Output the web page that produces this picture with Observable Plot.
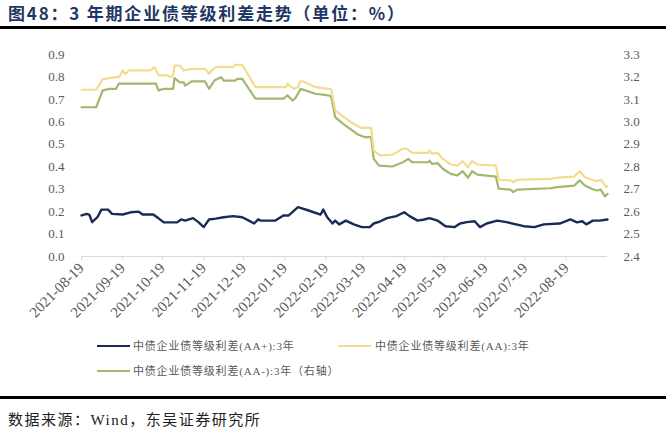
<!DOCTYPE html>
<html>
<head>
<meta charset="utf-8">
<script src="https://cdn.jsdelivr.net/npm/d3@7"></script>
<script src="https://cdn.jsdelivr.net/npm/@observablehq/plot@0.6"></script>
<style>
  html, body { margin: 0; padding: 0; background: #fff; }
  body { width: 666px; height: 439px; position: relative; overflow: hidden; font-family: "Liberation Serif", "Noto Sans CJK SC", serif; }
  #title { position: absolute; left: 8px; top: 2px; font-family: "Noto Sans CJK SC", sans-serif; font-weight: 700; font-size: 17px; color: #1f3763; letter-spacing: 1.8px; white-space: nowrap; line-height: 22px; }
  .rule { position: absolute; left: 0; width: 666px; height: 3px; background: #000; }
  #chart { position: absolute; left: 0; top: 30px; }
  .leg { position: absolute; font-family: "Liberation Serif", "Noto Sans CJK SC", serif; font-size: 11px; color: #595959; letter-spacing: 0.8px; white-space: nowrap; line-height: 14px; }
  .legline { position: absolute; height: 2px; width: 33px; }
  #source { position: absolute; left: 8px; top: 408px; font-size: 15px; letter-spacing: 1.5px; color: #222; font-family: "Liberation Serif", "Noto Sans CJK SC", serif; white-space: nowrap; }
</style>
</head>
<body>
<div id="title"></div>
<div class="rule" style="top:26px"></div>
<div id="chart"></div>
<div id="legend"></div>
<div class="rule" style="top:396px"></div>
<div id="source"></div>
<script>
const titleText = "图48：3 年期企业债等级利差走势（单位：%）";
const sourceText = "数据来源：Wind，东吴证券研究所";
const seriesNames = ["中债企业债等级利差(AA+):3年", "中债企业债等级利差(AA):3年", "中债企业债等级利差(AA-):3年（右轴）"];
const seriesColors = ["#1a2b55", "#f3dc8e", "#a3b76e"];

const xTickLabels = ["2021-08-19","2021-09-19","2021-10-19","2021-11-19","2021-12-19","2022-01-19","2022-02-19","2022-03-19","2022-04-19","2022-05-19","2022-06-19","2022-07-19","2022-08-19"];
const xDomain = ["2021-08-19", "2022-09-19"];
const leftTicks = [0.0,0.1,0.2,0.3,0.4,0.5,0.6,0.7,0.8,0.9];
const rightTicks = [2.4,2.5,2.6,2.7,2.8,2.9,3.0,3.1,3.2,3.3];
const rightOffset = 2.4; // right axis 2.4 aligns with left 0.0

// AA+ (left axis)
const aaPlus = [
["2021-08-19",0.183],["2021-08-23",0.190],["2021-08-25",0.185],["2021-08-27",0.153],["2021-08-31",0.175],
["2021-09-03",0.209],["2021-09-08",0.209],["2021-09-11",0.190],["2021-09-19",0.187],["2021-09-25",0.197],
["2021-10-01",0.200],["2021-10-04",0.187],["2021-10-12",0.187],["2021-10-16",0.170],["2021-10-20",0.152],
["2021-10-30",0.152],["2021-11-02",0.165],["2021-11-05",0.160],["2021-11-11",0.171],["2021-11-15",0.153],
["2021-11-19",0.131],["2021-11-23",0.165],["2021-11-28",0.169],["2021-12-04",0.175],["2021-12-11",0.180],
["2021-12-18",0.175],["2021-12-23",0.160],["2021-12-27",0.147],["2021-12-30",0.165],["2022-01-01",0.160],
["2022-01-12",0.160],["2022-01-18",0.183],["2022-01-22",0.183],["2022-01-29",0.220],["2022-02-06",0.205],
["2022-02-15",0.187],["2022-02-17",0.209],["2022-02-20",0.175],["2022-02-24",0.147],["2022-02-26",0.160],
["2022-03-01",0.143],["2022-03-06",0.160],["2022-03-12",0.143],["2022-03-18",0.131],["2022-03-24",0.131],
["2022-03-27",0.147],["2022-04-01",0.157],["2022-04-06",0.171],["2022-04-13",0.180],["2022-04-19",0.197],
["2022-04-23",0.180],["2022-04-29",0.160],["2022-05-04",0.165],["2022-05-08",0.171],["2022-05-14",0.160],
["2022-05-20",0.135],["2022-05-27",0.131],["2022-05-31",0.147],["2022-06-05",0.153],["2022-06-11",0.157],
["2022-06-15",0.131],["2022-06-20",0.147],["2022-06-28",0.160],["2022-07-05",0.153],["2022-07-18",0.135],
["2022-07-26",0.131],["2022-08-02",0.143],["2022-08-14",0.147],["2022-08-22",0.165],["2022-08-27",0.152],
["2022-08-31",0.157],["2022-09-03",0.143],["2022-09-08",0.160],["2022-09-13",0.160],["2022-09-19",0.165]
];

// AA (left axis)
const aa = [
["2021-08-19",0.743],["2021-08-30",0.743],["2021-09-04",0.790],["2021-09-16",0.800],["2021-09-17",0.805],
["2021-09-19",0.829],["2021-09-21",0.814],["2021-09-24",0.829],["2021-10-10",0.829],["2021-10-13",0.844],
["2021-10-16",0.807],["2021-10-23",0.807],["2021-10-25",0.799],["2021-10-27",0.807],["2021-10-28",0.851],
["2021-11-01",0.851],["2021-11-04",0.829],["2021-11-10",0.836],["2021-11-20",0.836],["2021-11-23",0.814],
["2021-11-25",0.829],["2021-11-28",0.844],["2021-12-11",0.844],["2021-12-13",0.854],["2021-12-18",0.854],
["2021-12-28",0.755],["2022-01-20",0.755],["2022-01-21",0.770],["2022-01-26",0.747],["2022-01-29",0.755],
["2022-01-31",0.784],["2022-02-11",0.755],["2022-02-21",0.747],["2022-02-23",0.745],["2022-02-26",0.651],
["2022-03-03",0.628],["2022-03-10",0.598],["2022-03-14",0.584],["2022-03-18",0.573],["2022-03-25",0.573],
["2022-03-27",0.472],["2022-04-01",0.450],["2022-04-10",0.454],["2022-04-18",0.480],["2022-04-21",0.480],
["2022-04-25",0.462],["2022-05-07",0.462],["2022-05-08",0.472],["2022-05-10",0.458],["2022-05-14",0.462],
["2022-05-18",0.435],["2022-05-24",0.410],["2022-05-29",0.405],["2022-06-02",0.425],["2022-06-06",0.398],
["2022-06-09",0.425],["2022-06-13",0.410],["2022-06-27",0.405],["2022-06-29",0.342],["2022-07-08",0.339],
["2022-07-10",0.331],["2022-07-13",0.342],["2022-08-07",0.346],["2022-08-12",0.351],["2022-08-25",0.356],
["2022-08-29",0.380],["2022-09-02",0.353],["2022-09-07",0.342],["2022-09-11",0.336],["2022-09-14",0.342],
["2022-09-18",0.309],["2022-09-19",0.315]
];

// AA- (right axis)
const aaMinus = [
["2021-08-19",3.065],["2021-08-30",3.065],["2021-09-04",3.140],["2021-09-09",3.147],["2021-09-14",3.147],
["2021-09-16",3.170],["2021-10-14",3.170],["2021-10-16",3.140],["2021-10-20",3.147],["2021-10-27",3.147],
["2021-10-28",3.195],["2021-11-01",3.176],["2021-11-04",3.176],["2021-11-05",3.161],["2021-11-10",3.180],
["2021-11-20",3.180],["2021-11-23",3.147],["2021-11-27",3.184],["2021-12-02",3.199],["2021-12-04",3.184],
["2021-12-13",3.184],["2021-12-14",3.191],["2021-12-18",3.191],["2021-12-28",3.103],["2022-01-18",3.103],
["2022-01-21",3.118],["2022-01-25",3.095],["2022-01-27",3.105],["2022-01-31",3.147],["2022-02-11",3.125],
["2022-02-21",3.118],["2022-02-23",3.112],["2022-02-26",3.021],["2022-03-04",2.991],["2022-03-10",2.965],
["2022-03-15",2.944],["2022-03-20",2.932],["2022-03-25",2.932],["2022-03-27",2.835],["2022-03-31",2.805],
["2022-04-10",2.801],["2022-04-18",2.820],["2022-04-22",2.835],["2022-04-25",2.820],["2022-05-07",2.820],
["2022-05-08",2.827],["2022-05-10",2.812],["2022-05-14",2.816],["2022-05-18",2.791],["2022-05-24",2.768],
["2022-05-29",2.761],["2022-06-02",2.780],["2022-06-06",2.751],["2022-06-09",2.780],["2022-06-13",2.765],
["2022-06-27",2.756],["2022-06-29",2.702],["2022-07-08",2.698],["2022-07-10",2.687],["2022-07-13",2.698],
["2022-08-07",2.704],["2022-08-12",2.709],["2022-08-25",2.716],["2022-08-29",2.739],["2022-09-02",2.716],
["2022-09-07",2.702],["2022-09-11",2.694],["2022-09-14",2.698],["2022-09-17",2.667],["2022-09-19",2.679]
];

const parse = d3.utcParse("%Y-%m-%d");
const toRows = (arr, off) => arr.map(([d, v]) => ({date: parse(d), value: v - off}));

document.getElementById("title").textContent = titleText;
document.getElementById("source").textContent = sourceText;

const chart = Plot.plot({
  width: 666,
  height: 300,
  marginLeft: 81,
  marginRight: 59,
  marginTop: 24,
  marginBottom: 74,
  style: { fontFamily: "Liberation Serif, serif", fontSize: "13px", color: "#595959", background: "transparent", overflow: "visible" },
  x: { type: "utc", domain: xDomain.map(parse) },
  y: { domain: [0, 0.9] },
  marks: [
    Plot.ruleY([0], { stroke: "#d9d9d9", strokeWidth: 1 }),
    Plot.axisX({ ticks: xTickLabels.map(parse), tickFormat: d3.utcFormat("%Y-%m-%d"), tickRotate: -45, tickSize: 4, stroke: "#d9d9d9", fill: "#595959", label: null, tickPadding: 5, fontSize: 15 }),
    Plot.axisY({ ticks: leftTicks, tickFormat: d => d.toFixed(1), tickSize: 0, tickPadding: 17, label: null, fill: "#595959" }),
    Plot.axisY({ anchor: "right", ticks: rightTicks.map(v => v - rightOffset), tickFormat: d => (d + rightOffset).toFixed(1), tickSize: 0, tickPadding: 16, label: null, fill: "#595959" }),
    Plot.lineY(toRows(aaMinus, rightOffset), { x: "date", y: "value", stroke: seriesColors[2], strokeWidth: 2.2 }),
    Plot.lineY(toRows(aa, 0), { x: "date", y: "value", stroke: seriesColors[1], strokeWidth: 2.2 }),
    Plot.lineY(toRows(aaPlus, 0), { x: "date", y: "value", stroke: seriesColors[0], strokeWidth: 2.4 })
  ]
});
document.getElementById("chart").appendChild(chart);

// legend
const legendPos = [ {lx: 97, tx: 133, y: 346}, {lx: 338, tx: 375, y: 346}, {lx: 97, tx: 133, y: 371} ];
const legend = document.getElementById("legend");
seriesNames.forEach((name, i) => {
  const p = legendPos[i];
  const ln = document.createElement("div");
  ln.className = "legline";
  ln.style.left = p.lx + "px";
  ln.style.top = (p.y - 1) + "px";
  ln.style.background = seriesColors[i];
  legend.appendChild(ln);
  const tx = document.createElement("div");
  tx.className = "leg";
  tx.style.left = p.tx + "px";
  tx.style.top = (p.y - 7) + "px";
  tx.textContent = name;
  legend.appendChild(tx);
});
</script>
</body>
</html>
